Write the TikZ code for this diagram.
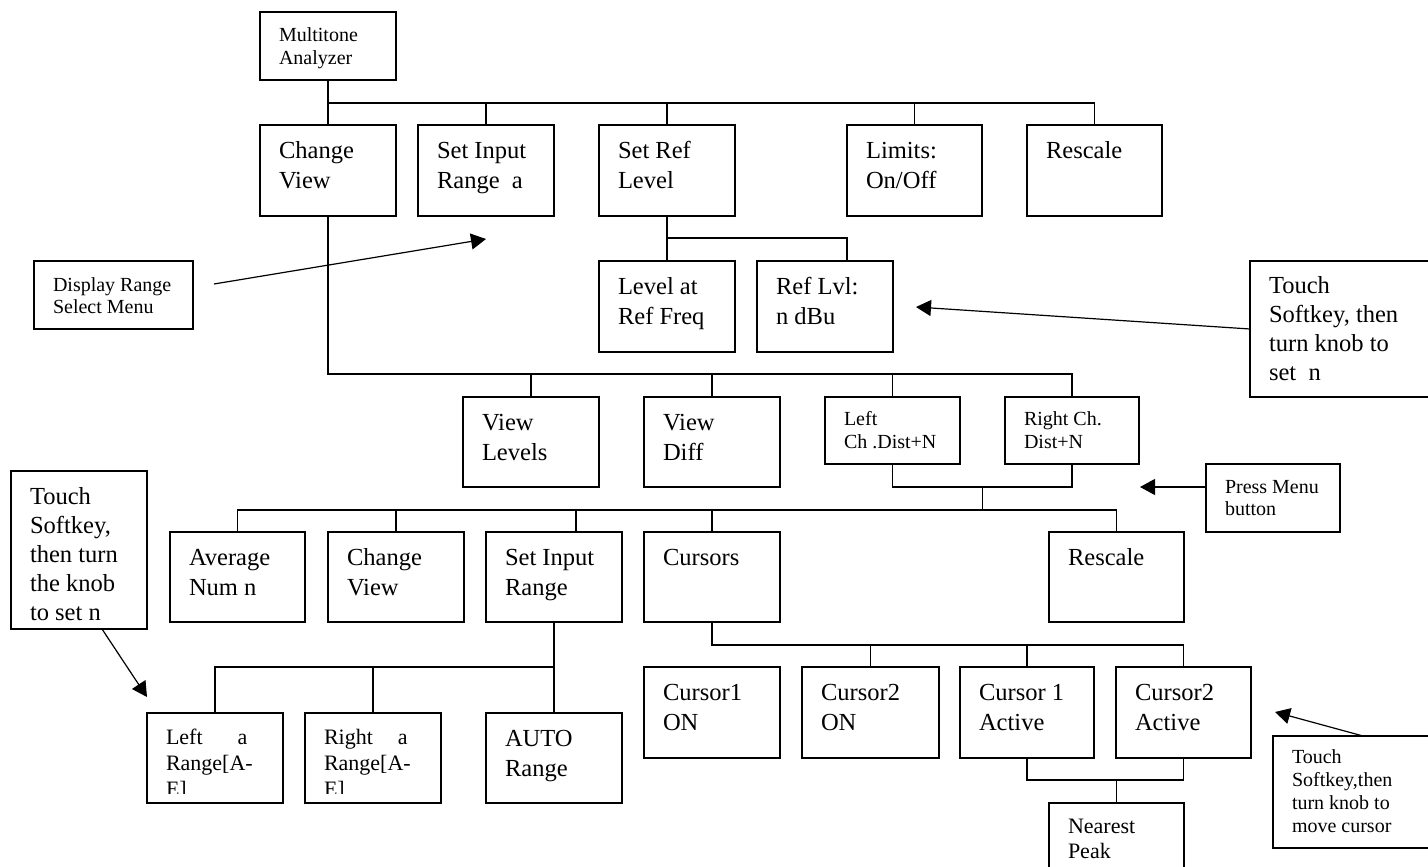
\documentclass[tikz,border=0pt]{standalone}
\usepackage{fontspec}
\setmainfont{Liberation Serif}
\usetikzlibrary{arrows.meta,calc}

% one drawing unit (a pixel of the layout grid)
\newlength\pxu
\setlength\pxu{0.75pt}

% top-aligned box text: width, height, first baseline, baselineskip, text
\newcommand\boxtext[5]{%
  \vbox to #2\pxu{\hsize=#1\pxu\parindent=0pt\parskip=0pt
    \leftskip=19\pxu\rightskip=0pt plus 1fil
    \baselineskip=#4\pxu\lineskip=0pt\lineskiplimit=-100pt
    \hbox{}\vskip\dimexpr#3\pxu-#4\pxu\relax
    #5\par\vss}}

\tikzset{
  box/.style={draw, line width=0.9pt, inner sep=0pt, outer sep=0pt, anchor=north west},
  bigf/.style={font=\fontsize{18.4pt}{22pt}\selectfont},
  medf/.style={font=\fontsize{16.5pt}{19pt}\selectfont},
  smallf/.style={font=\fontsize{15pt}{17pt}\selectfont},
  conn/.style={line width=0.9pt},
  arr/.style={line width=0.9pt, -{Triangle[length=11.25pt,width=12pt]}},
  cutbox/.style={box, minimum width=102pt, minimum height=67.5pt}
}

\begin{document}
\begin{tikzpicture}[x=0.75pt,y=-0.75pt]
\useasboundingbox (0,0) rectangle (1428,867);

% ---- main menu ----
\node[box,smallf] (mta) at (260,12) {\boxtext{136}{68}{30}{22}{Multitone\newline Analyzer}};
\node[box,bigf] (cv1) at (260,125) {\boxtext{136}{91}{33}{30}{Change\newline View}};
\node[box,bigf] (sir1) at (418,125) {\boxtext{136}{91}{33}{30}{Set Input\newline Range\ \ a}};
\node[box,bigf] (srl) at (599,125) {\boxtext{136}{91}{33}{30}{Set Ref\newline Level}};
\node[box,bigf] (lim) at (847,125) {\boxtext{135}{91}{33}{30}{Limits:\newline On/Off}};
\node[box,bigf] (rs1) at (1027,125) {\boxtext{135}{91}{33}{30}{Rescale}};

% ---- reference level ----
\node[box,bigf] (lar) at (599,261) {\boxtext{136}{91}{33}{30}{Level at\newline Ref Freq}};
\node[box,bigf] (rlv) at (757,261) {\boxtext{136}{91}{33}{30}{Ref Lvl:\newline n dBu}};

% ---- view selection ----
\node[box,bigf] (vl) at (463,397) {\boxtext{136}{90}{33}{30}{View\newline Levels}};
\node[box,bigf] (vd) at (644,397) {\boxtext{136}{90}{33}{30}{View\newline Diff}};
\node[box,smallf] (lch) at (825,397) {\boxtext{135}{67}{28}{23}{Left\newline Ch .Dist+N}};
\node[box,smallf] (rch) at (1005,397) {\boxtext{134}{67}{28}{23}{Right Ch.\newline Dist+N}};

% ---- distortion menu ----
\node[box,bigf] (avg) at (170,532) {\boxtext{135}{90}{33}{30}{Average\newline Num n}};
\node[box,bigf] (cv2) at (328,532) {\boxtext{136}{90}{33}{30}{Change\newline View}};
\node[box,bigf] (sir2) at (486,532) {\boxtext{136}{90}{33}{30}{Set Input\newline Range}};
\node[box,bigf] (cur) at (644,532) {\boxtext{136}{90}{33}{30}{Cursors}};
\node[box,bigf] (rs2) at (1049,532) {\boxtext{135}{90}{33}{30}{Rescale}};

% ---- input range ----
\node[cutbox, path picture={
    \clip ([yshift=7.5pt]path picture bounding box.south west) rectangle (path picture bounding box.north east);
    \node[anchor=north west, inner sep=0pt, medf] at (path picture bounding box.north west)
      {\boxtext{136}{120}{31}{26}{Left\hspace{35\pxu}a\newline Range[A-\newline E]}};}]
  (lra) at (147,713) {};
\node[cutbox, path picture={
    \clip ([yshift=7.5pt]path picture bounding box.south west) rectangle (path picture bounding box.north east);
    \node[anchor=north west, inner sep=0pt, medf] at (path picture bounding box.north west)
      {\boxtext{136}{120}{31}{26}{Right\hspace{25\pxu}a\newline Range[A-\newline E]}};}]
  (rra) at (305,713) {};
\node[box,bigf] (auto) at (486,713) {\boxtext{136}{90}{33}{30}{AUTO\newline Range}};

% ---- cursors ----
\node[box,bigf] (c1on) at (644,667) {\boxtext{136}{91}{33}{30}{Cursor1\newline ON}};
\node[box,bigf] (c2on) at (802,667) {\boxtext{137}{91}{33}{30}{Cursor2\newline ON}};
\node[box,bigf] (c1a) at (960,667) {\boxtext{134}{91}{33}{30}{Cursor 1\newline Active}};
\node[box,bigf] (c2a) at (1116,667) {\boxtext{135}{91}{33}{30}{Cursor2\newline Active}};
\node[box,medf] (np) at (1049,803) {\boxtext{135}{100}{30}{25}{Nearest\newline Peak}};

% ---- notes ----
\node[box,smallf] (disp) at (34,261) {\boxtext{159}{68}{30}{22}{Display Range\newline Select Menu}};
\node[box,bigf] (tr) at (1250,261) {\boxtext{200}{136}{32}{29}{Touch\newline Softkey, then\newline turn knob to\newline set\ \ n}};
\node[box,smallf] (pm) at (1206,464) {\boxtext{134}{68}{29}{22}{Press Menu\newline button}};
\node[box,bigf] (tl) at (11,471) {\boxtext{136}{158}{33}{29}{Touch\newline Softkey,\newline then turn\newline the knob\newline to set n}};
\node[box,smallf] (br) at (1273,736) {\boxtext{180}{112}{27}{23}{Touch\newline Softkey,then\newline turn knob to\newline move cursor}};

% ---- bus levels ----
\coordinate (b1) at (0,103);
\coordinate (b2) at (0,238);
\coordinate (b3) at (0,374);
\coordinate (b4) at (0,487);
\coordinate (b5) at (0,510);
\coordinate (b6) at (0,667);
\coordinate (b7) at (0,645);
\coordinate (b8) at (0,780);

% main menu tree
\draw[conn] (mta.south) -- (mta.south |- b1) -| (rs1.north);
\foreach \n in {cv1,sir1,srl,lim} \draw[conn] (\n.north) -- (\n.north |- b1);

% reference level tree
\coordinate (rlvin) at ([xshift=67.5pt]rlv.north west);
\draw[conn] (srl.south) -- (srl.south |- b2) -| (rlvin);
\draw[conn] (lar.north) -- (lar.north |- b2);

% view tree
\draw[conn] (cv1.south) |- (rch.north |- b3) -- (rch.north);
\foreach \n in {vl,vd,lch} \draw[conn] (\n.north) -- (\n.north |- b3);

% distortion menu tree
\draw[conn] (lch.south) -- (lch.south |- b4) -| (rch.south);
\coordinate (m4) at ($(lch.south |- b4)!0.5!(rch.south |- b4)$);
\draw[conn] (m4) -- (m4 |- b5);
\draw[conn] (avg.north) |- (rs2.north |- b5) -- (rs2.north);
\foreach \n in {cv2,cur} \draw[conn] (\n.north) -- (\n.north |- b5);
\coordinate (sirin) at ([xshift=67.5pt]sir2.north west);
\draw[conn] (sirin) -- (sirin |- b5);

% input range tree
\draw[conn] (sir2.south) -- (auto.north);
\draw[conn] (lra.north) |- (sir2.south |- b6);
\draw[conn] (rra.north) -- (rra.north |- b6);

% cursor tree
\draw[conn] (cur.south) |- (c2a.north |- b7) -- (c2a.north);
\foreach \n in {c2on,c1a} \draw[conn] (\n.north) -- (\n.north |- b7);
\draw[conn] (c1a.south) -- (c1a.south |- b8) -| (c2a.south);
\draw[conn] (np.north) -- (np.north |- b8);

% note arrows
\coordinate (dispA) at ([shift={(15.75pt,8.25pt)}]disp.east);
\coordinate (dispT) at (486,239);
\draw[arr] (dispA) -- (dispT);

\coordinate (trT) at (916,307);
\draw[arr] (tr.west) -- (trT);

\coordinate (pmA) at ([yshift=8.25pt]pm.west);
\coordinate (pmT) at (1140,487);
\draw[arr] (pmA) -- (pmT);

\coordinate (tlA) at ([xshift=17.25pt]tl.south);
\coordinate (tlT) at (147,697);
\draw[arr] (tlA) -- (tlT);

\coordinate (brA) at ([xshift=67.5pt]br.north west);
\coordinate (brT) at (1275,712);
\draw[arr] (brA) -- (brT);
\end{tikzpicture}
\end{document}
